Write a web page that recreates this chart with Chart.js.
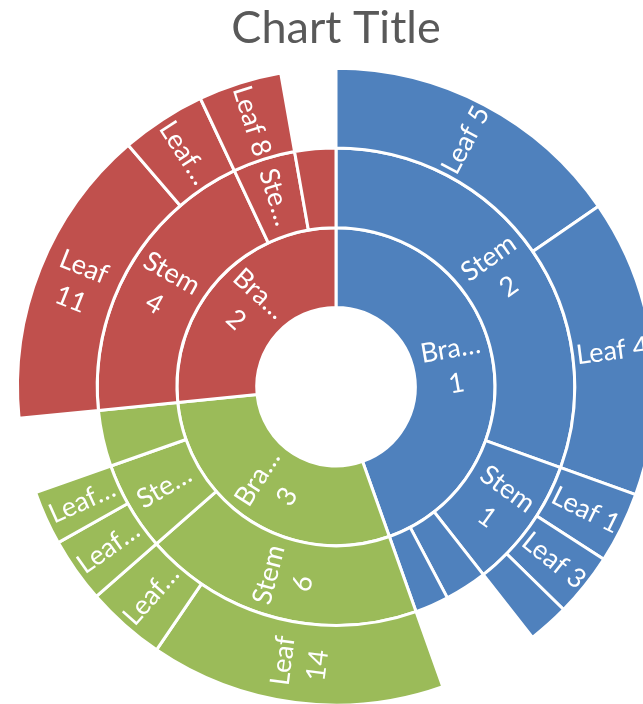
<!DOCTYPE html>
<html lang="en">
<head>
    <meta charset="UTF-8">
    <title>Chart Title</title>
    <script src="https://cdn.jsdelivr.net/npm/chart.js@4"></script>
    <style>
        html, body {
            margin: 0;
            padding: 0;
            background: #fff;
            overflow: hidden;
        }
    </style>
</head>
<body>
    <canvas id="sunburst" width="643" height="704"></canvas>

    <script>
        // arc sizes (degrees of the full circle)
        const branchLabels = ['Bra…\n1', 'Bra…\n3', 'Bra…\n2'];

        const stemLabels = ['Stem\n2', 'Stem\n1', '', '', 'Stem\n6', 'Ste…', '', 'Stem\n4', 'Ste…', ''];
        const stemBranch = [0, 0, 0, 0, 1, 1, 1, 2, 2, 2];
        const stemValues = [null, null, 10.3, 8.2, null, null, 13.7, null, null, 10.0]; // stems without leaves

        const leafLabels = ['Leaf 5', 'Leaf 4', 'Leaf 1', 'Leaf 3', '', 'Leaf\n14', 'Leaf…', 'Leaf…', 'Leaf…', 'Leaf\n11', 'Leaf…', 'Leaf 8'];
        const leafStem = [0, 0, 1, 1, 1, 4, 4, 5, 5, 7, 7, 8];
        const leafValues = [55.5, 54.3, 13.0, 11.6, 7.5, 53.9, 14.5, 11.9, 9.9, 55.0, 15.5, 15.2];

        const colors = ['#4F81BD', '#9BBB59', '#C0504D'];

        // roll the leaves up into stems, the stems up into branches
        const stemTotals = stemLabels.map((_, i) => stemValues[i] != null ? stemValues[i] :
            leafValues.reduce((s, v, j) => leafStem[j] === i ? s + v : s, 0));
        const branchTotals = branchLabels.map((_, b) =>
            stemTotals.reduce((s, v, i) => stemBranch[i] === b ? s + v : s, 0));

        // outer ring: leaves, with an empty slot where a stem has none
        const leafRing = { data: [], txt: [], bg: [], bw: [] };
        stemTotals.forEach((total, i) => {
            const kids = leafStem.map((s, j) => s === i ? j : -1).filter(j => j >= 0);
            if (!kids.length) {
                leafRing.data.push(total);
                leafRing.txt.push('');
                leafRing.bg.push('rgba(0,0,0,0)');
                leafRing.bw.push(0);
                return;
            }
            kids.forEach(j => {
                leafRing.data.push(leafValues[j]);
                leafRing.txt.push(leafLabels[j]);
                leafRing.bg.push(colors[stemBranch[i]]);
                leafRing.bw.push(3);
            });
        });

        // white text, turned along the radius
        const arcLabels = {
            id: 'arcLabels',
            afterDatasetsDraw(chart) {
                const ctx = chart.ctx;
                ctx.save();
                ctx.fillStyle = '#fff';
                ctx.font = '27px Lato';
                ctx.textAlign = 'center';
                ctx.textBaseline = 'middle';
                chart.data.datasets.forEach((ds, d) => {
                    chart.getDatasetMeta(d).data.forEach((arc, i) => {
                        const text = ds.txt[i];
                        if (!text) return;
                        const p = arc.getProps(['x', 'y', 'startAngle', 'endAngle', 'innerRadius', 'outerRadius'], true);
                        const mid = (p.startAngle + p.endAngle) / 2;
                        const r = (p.innerRadius + p.outerRadius) / 2;
                        ctx.save();
                        ctx.translate(p.x + Math.cos(mid) * r, p.y + Math.sin(mid) * r);
                        ctx.rotate(Math.cos(mid) >= 0 ? mid : mid + Math.PI);
                        const lines = text.split('\n');
                        lines.forEach((line, k) => ctx.fillText(line, 0, (k - (lines.length - 1) / 2) * 35));
                        ctx.restore();
                    });
                });
                ctx.restore();
            }
        };

        new Chart(document.getElementById('sunburst'), {
            type: 'doughnut',
            data: {
                datasets: [
                    {
                        data: leafRing.data,
                        txt: leafRing.txt,
                        backgroundColor: leafRing.bg,
                        borderColor: '#fff',
                        borderWidth: leafRing.bw
                    },
                    {
                        data: stemTotals,
                        txt: stemLabels,
                        backgroundColor: stemBranch.map(b => colors[b]),
                        borderColor: '#fff',
                        borderWidth: 3
                    },
                    {
                        data: branchTotals,
                        txt: branchLabels,
                        backgroundColor: colors,
                        borderColor: '#fff',
                        borderWidth: 3
                    }
                ]
            },
            options: {
                responsive: false,
                animation: false,
                radius: 318.5,
                cutout: '24.9%',
                layout: { padding: { left: 29, right: 0, top: 0, bottom: 0 } },
                plugins: {
                    legend: { display: false },
                    tooltip: { enabled: false },
                    title: {
                        display: true,
                        text: 'Chart Title',
                        color: '#595959',
                        font: { family: 'Lato', size: 45, weight: 'normal' },
                        padding: { top: 1, bottom: 14.4 }
                    }
                }
            },
            plugins: [arcLabels]
        });
    </script>
</body>
</html>
